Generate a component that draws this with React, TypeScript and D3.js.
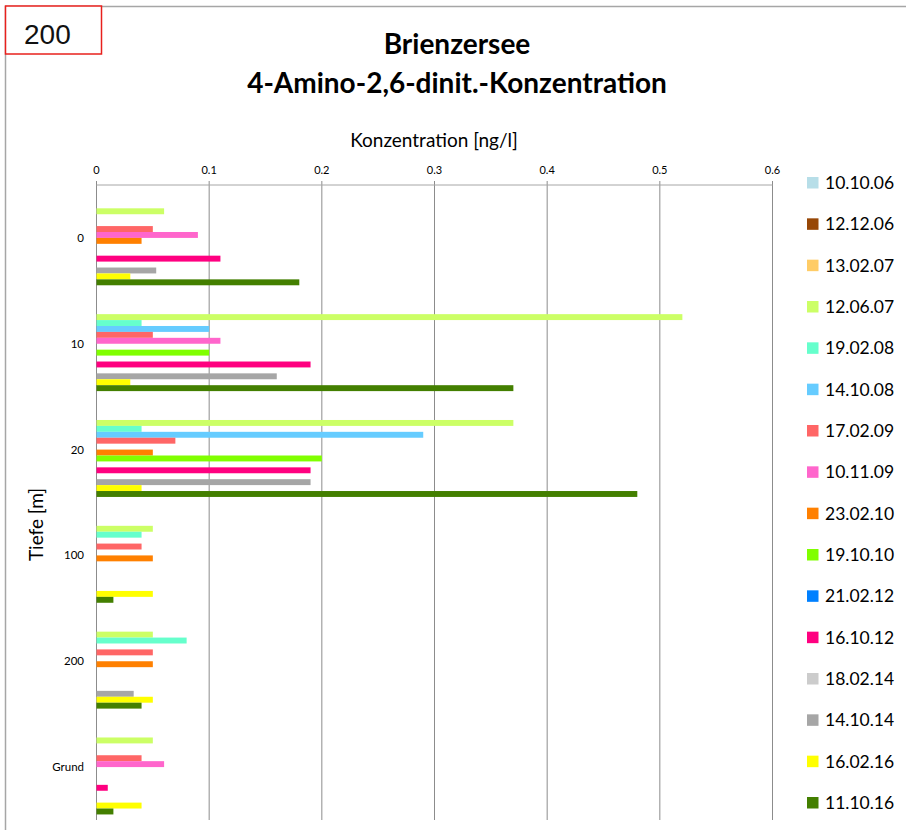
import * as d3 from 'd3'

const categories = ['0', '10', '20', '100', '200', 'Grund']

const seriesNames = [
  '10.10.06', '12.12.06', '13.02.07', '12.06.07', '19.02.08', '14.10.08', '17.02.09', '10.11.09',
  '23.02.10', '19.10.10', '21.02.12', '16.10.12', '18.02.14', '14.10.14', '16.02.16', '11.10.16',
]

const seriesColors = [
  '#B7DEE8', '#974706', '#FFCC66', '#CCFF66', '#66FFCC', '#66CCFF', '#FF6666', '#FF66CC',
  '#FF8000', '#80FF00', '#0080FF', '#FF0080', '#CCCCCC', '#A6A6A6', '#FFFF00', '#437F00',
]

// one value per depth: 0, 10, 20, 100, 200, Grund (null = not measured)
const v101006 = [null, null, null, null, null, null]
const v121206 = [null, null, null, null, null, null]
const v130207 = [null, null, null, null, null, null]
const v120607 = [0.06, 0.52, 0.37, 0.05, 0.05, 0.05]
const v190208 = [null, 0.04, 0.04, 0.04, 0.08, null]
const v141008 = [null, 0.1, 0.29, null, null, null]
const v170209 = [0.05, 0.05, 0.07, 0.04, 0.05, 0.04]
const v101109 = [0.09, 0.11, null, null, null, 0.06]
const v230210 = [0.04, null, 0.05, 0.05, 0.05, null]
const v191010 = [null, 0.1, 0.2, null, null, null]
const v210212 = [null, null, null, null, null, null]
const v161012 = [0.11, 0.19, 0.19, null, null, 0.01]
const v180214 = [null, null, null, null, null, null]
const v141014 = [0.053, 0.16, 0.19, null, 0.033, null]
const v160216 = [0.03, 0.03, 0.04, 0.05, 0.05, 0.04]
const v111016 = [0.18, 0.37, 0.48, 0.015, 0.04, 0.015]

const seriesValues: (number | null)[][] = [
  v101006, v121206, v130207, v120607, v190208, v141008, v170209, v101109,
  v230210, v191010, v210212, v161012, v180214, v141014, v160216, v111016,
]

const xTicks = [0, 0.1, 0.2, 0.3, 0.4, 0.5, 0.6]

const W = 906
const H = 830
const font = 'Lato, "Open Sans", sans-serif'

export default function App() {
  const plot = { left: 96.5, right: 772.5, top: 185, bottom: 820 }

  const x = d3.scaleLinear().domain([0, 0.6]).range([plot.left, plot.right])
  const y = d3.scaleBand<string>().domain(categories).range([plot.top, plot.bottom]).padding(0)
  const gap = y.bandwidth() * 0.105
  const inner = d3
    .scaleBand<string>()
    .domain(seriesNames)
    .range([gap / 2, y.bandwidth() - gap / 2])
    .padding(0)

  const legendY = d3.scalePoint<string>().domain(seriesNames).range([182.5, 802.5])

  return (
    <svg width={W} height={H} style={{ position: 'absolute', left: 0, top: 0, background: '#fff' }}>
      <rect x={0} y={0} width={W} height={H} fill="#fff" />
      {/* outer frame */}
      <line x1={5} x2={W} y1={6.5} y2={6.5} stroke="#A6A6A6" strokeWidth={1.5} />
      <line x1={5.5} x2={5.5} y1={6} y2={H} stroke="#A6A6A6" strokeWidth={1.5} />
      <rect x={5.5} y={6} width={96} height={48} fill="#fff" stroke="#E8201C" strokeWidth={1.5} />
      <text x={24} y={44} fontFamily='"Liberation Sans", Arial, sans-serif' fontSize={28} fill="#111">
        200
      </text>

      {/* title */}
      <text x={457} y={54} textAnchor="middle" fontFamily={font} fontWeight={700} fontSize={28} fill="#000">
        Brienzersee
      </text>
      <text x={457} y={93} textAnchor="middle" fontFamily={font} fontWeight={700} fontSize={28} fill="#000">
        4-Amino-2,6-dinit.-Konzentration
      </text>

      {/* axis titles */}
      <text x={434} y={147} textAnchor="middle" fontFamily={font} fontSize={19} fill="#000">
        Konzentration [ng/l]
      </text>
      <text
        transform={`translate(43,${(plot.top + plot.bottom) / 2 + 22}) rotate(-90)`}
        textAnchor="middle"
        fontFamily={font}
        fontSize={19}
        fill="#000"
      >
        Tiefe [m]
      </text>

      {/* grid + x axis */}
      {xTicks.map(t => (
        <g key={t}>
          <line x1={x(t)} x2={x(t)} y1={plot.top - 4} y2={plot.bottom} stroke="#8C8C8C" strokeWidth={1} />
          <text x={x(t)} y={174} textAnchor="middle" fontFamily={font} fontSize={11} fill="#000">
            {t}
          </text>
        </g>
      ))}
      <line x1={plot.left} x2={plot.right} y1={plot.top} y2={plot.top} stroke="#A6A6A6" strokeWidth={1} />

      {/* y labels */}
      {categories.map(c => (
        <text
          key={c}
          x={84}
          y={(y(c) ?? 0) + y.bandwidth() / 2 + 4}
          textAnchor="end"
          fontFamily={font}
          fontSize={11.5}
          fill="#000"
        >
          {c}
        </text>
      ))}

      {/* bars */}
      {seriesNames.map((s, si) => (
        <g key={s} fill={seriesColors[si]}>
          {categories.map((c, ci) => {
            const v = seriesValues[si][ci]
            if (v == null) return null
            return (
              <rect
                key={c}
                x={x(0)}
                y={(y(c) ?? 0) + (inner(s) ?? 0)}
                width={x(v) - x(0)}
                height={inner.bandwidth()}
              />
            )
          })}
        </g>
      ))}

      {/* legend */}
      {seriesNames.map((s, si) => (
        <g key={s} transform={`translate(807,${legendY(s)})`}>
          <rect x={0} y={-5.5} width={11.5} height={11.5} fill={seriesColors[si]} />
          <text x={18} y={6.5} fontFamily={font} fontSize={17.5} fill="#000">
            {s}
          </text>
        </g>
      ))}
    </svg>
  )
}
